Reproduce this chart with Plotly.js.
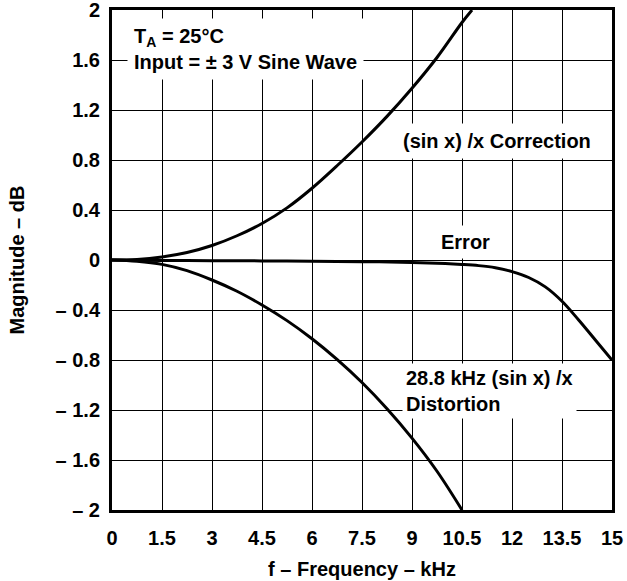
<!DOCTYPE html>
<html>
<head>
<meta charset="utf-8">
<script src="https://cdn.plot.ly/plotly-3.0.1.min.js"></script>
<style>html,body{margin:0;padding:0;background:#fff;}</style>
</head>
<body>
<div id="chart" style="width:627px;height:581px;"></div>
<script>
// Frequency grid (kHz) and read values (dB)
const freqCorrection = [0, 0.75, 1.5, 2.25, 3, 3.75, 4.5, 5.25, 6, 6.75, 7.5, 8.25, 9, 9.75, 10.5, 10.8];
const correction     = [0, 0.004, 0.024, 0.06, 0.116, 0.194, 0.292, 0.417, 0.574, 0.754, 0.944, 1.149, 1.374, 1.62, 1.9, 2.0];

const freqDistortion = [0, 0.75, 1.5, 2.25, 3, 3.75, 4.5, 5.25, 6, 6.75, 7.5, 8.25, 9, 9.75, 10.5];
const distortion     = [0, -0.01, -0.035, -0.085, -0.16, -0.25, -0.36, -0.485, -0.63, -0.795, -0.98, -1.19, -1.425, -1.69, -2.0];

const freqError = [0, 1.5, 3, 4.5, 6, 7.5, 9, 10, 10.5, 11, 11.5, 12, 12.5, 13, 13.5, 14, 14.5, 15];
const errorDb   = [0, -0.003, -0.005, -0.007, -0.01, -0.013, -0.02, -0.028, -0.035, -0.045, -0.062, -0.093, -0.14, -0.215, -0.33, -0.48, -0.64, -0.8];

const xTickVals = [0, 1.5, 3, 4.5, 6, 7.5, 9, 10.5, 12, 13.5, 15];
const xTickText = ['0', '1.5', '3', '4.5', '6', '7.5', '9', '10.5', '12', '13.5', '15'];
const yTickVals = [-2, -1.6, -1.2, -0.8, -0.4, 0, 0.4, 0.8, 1.2, 1.6, 2];
const yTickText = ['– 2', '– 1.6', '– 1.2', '– 0.8', '– 0.4', '0', '0.4', '0.8', '1.2', '1.6', '2'];

const FONT = 'Liberation Sans, Arial, Helvetica, sans-serif';
const lineStyle = {color: '#000', width: 3, shape: 'spline', smoothing: 1};

const traces = [
  {x: freqCorrection, y: correction, mode: 'lines', line: lineStyle, name: '(sin x)/x Correction'},
  {x: freqDistortion, y: distortion, mode: 'lines', line: lineStyle, name: 'Distortion'},
  {x: freqError, y: errorDb, mode: 'lines', line: lineStyle, name: 'Error'}
];

const tickFont = {family: FONT, size: 20, color: '#000', weight: 'bold'};
const titleFont = {family: FONT, size: 20, color: '#000', weight: 'bold'};
const annFont = {family: FONT, size: 20, color: '#000', weight: 'bold'};

const axisCommon = {
  showgrid: true, gridcolor: '#000', gridwidth: 1,
  showline: true, linecolor: '#000', linewidth: 3, mirror: true,
  zeroline: false, ticks: '', tickfont: tickFont, fixedrange: true,
  ticklabeloverflow: 'allow'
};

const layout = {
  width: 627, height: 581,
  margin: {l: 112, r: 15, t: 10, b: 71},
  paper_bgcolor: '#fff', plot_bgcolor: '#fff',
  showlegend: false,
  xaxis: Object.assign({}, axisCommon, {
    range: [0, 15], tickmode: 'array', tickvals: xTickVals, ticktext: xTickText,
    ticklabelstandoff: 8,
    title: {text: 'f – Frequency – kHz', font: titleFont, standoff: 14}
  }),
  yaxis: Object.assign({}, axisCommon, {
    range: [-2, 2], tickmode: 'array', tickvals: yTickVals, ticktext: yTickText,
    ticklabelstandoff: 5,
    title: {text: 'Magnitude – dB', font: titleFont, standoff: 26}
  }),
  annotations: [
    {x: 0.45, y: 1.69, xref: 'x', yref: 'y', xanchor: 'left', yanchor: 'middle', align: 'left',
     text: 'T<sub>A</sub> = 25°C<br>Input = ± 3 V Sine Wave', showarrow: false,
     font: annFont, bgcolor: '#fff', borderpad: 6},
    {x: 11.55, y: 0.956, xref: 'x', yref: 'y', xanchor: 'center', yanchor: 'middle',
     text: '(sin x) /x Correction', showarrow: false, font: annFont, bgcolor: '#fff', borderpad: 6},
    {x: 10.6, y: 0.142, xref: 'x', yref: 'y', xanchor: 'center', yanchor: 'middle',
     text: 'Error', showarrow: false, font: annFont, bgcolor: '#fff', borderpad: 5},
    {x: 8.7, y: -1.045, xref: 'x', yref: 'y', xanchor: 'left', yanchor: 'middle', align: 'left',
     text: '28.8 kHz (sin x) /x<br>Distortion', showarrow: false, font: annFont, bgcolor: '#fff', borderpad: 3}
  ]
};

Plotly.newPlot('chart', traces, layout, {staticPlot: true, displayModeBar: false});
</script>
</body>
</html>
